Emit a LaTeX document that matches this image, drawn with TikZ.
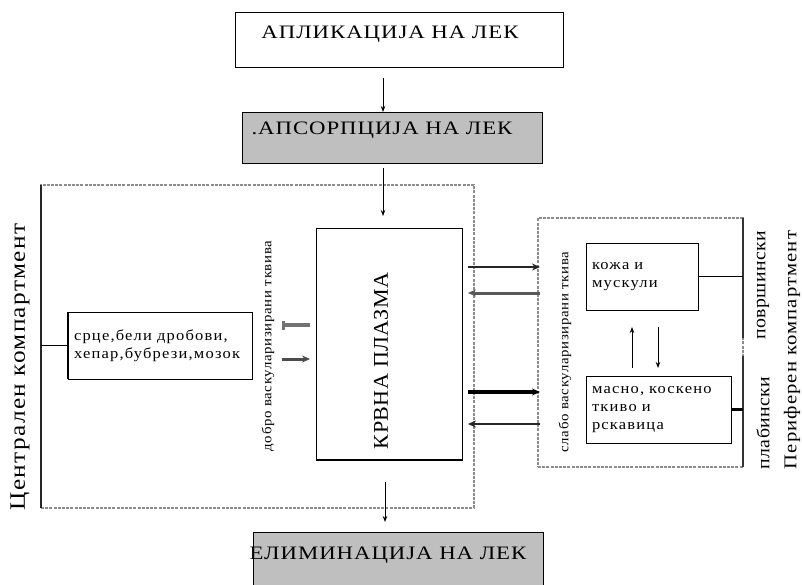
\documentclass[tikz,border=0pt]{standalone}
\usepackage{fontspec}
\setmainfont{Liberation Serif}
\newfontfamily\lsH[FakeStretch=1.2,LetterSpace=5]{Liberation Serif}
\newfontfamily\lsB[FakeStretch=1.1,LetterSpace=8]{Liberation Serif}
\newfontfamily\lsC[FakeStretch=1.1,LetterSpace=5]{Liberation Serif}
\newfontfamily\lsD[FakeStretch=1.05,LetterSpace=2]{Liberation Serif}
\newfontfamily\lsE[FakeStretch=1.15,LetterSpace=6]{Liberation Serif}
\newfontfamily\lsF[FakeStretch=1.1,LetterSpace=2]{Liberation Serif}
\usetikzlibrary{arrows.meta,calc}
\begin{document}
\begin{tikzpicture}[x=1pt,y=-1pt,
  box/.style={draw, line width=0.9pt, rectangle, inner sep=0pt, outer sep=0pt},
  graybox/.style={box, fill=black!25},
  dbox/.style={draw=black!45, dash pattern=on 3pt off 1.2pt, line width=1.6pt, rectangle, inner sep=0pt, outer sep=0pt},
  txtbox/.style={box, align=left, inner xsep=6pt, font=\lsB\fontsize{15}{18}\selectfont},
  head/.style={font=\lsH\fontsize{19}{22}\selectfont, inner sep=0pt},
  vtxt/.style={rotate=90, inner sep=0pt},
  arr/.style={-{Stealth[length=6pt,width=4.5pt]}, line width=0.8pt},
  harr/.style={-{Stealth[length=8pt,width=7pt]}, line width=2pt, black!85},
  hgarr/.style={-{Stealth[length=8pt,width=7pt]}, line width=3pt, black!65},
  bararr/.style={{Bar[width=9pt,line width=3pt]}-, line width=3.2pt, black!55},
]
\useasboundingbox (0,0) rectangle (802,585);

% dashed compartments
\node[dbox, minimum width=433pt, minimum height=323pt] (central) at (257.5,346.5) {};
\draw[line width=1.2pt, black!85] (central.north west) -- (central.south west);
\node[dbox, minimum width=205pt, minimum height=249pt] (periph) at (640.5,342.5) {};
\draw[line width=1.2pt, black!80] (periph.north east) -- ([shift={(0,120)}]periph.north east);
\draw[line width=1.2pt, black!80] ([shift={(0,138)}]periph.north east) -- (periph.south east);

% main boxes
\node[box, minimum width=328pt, minimum height=55pt] (app) at (399,39.5) {};
\node[head] (appt) at (390,34) {АПЛИКАЦИЈА НА ЛЕК};
\node[graybox, minimum width=300pt, minimum height=51pt] (abs) at (392,137.5) {};
\node[head] (abst) at (382,130) {.АПСОРПЦИЈА НА ЛЕК};
\node[graybox, minimum width=290pt, minimum height=68pt] (elim) at (398,566) {};
\node[head] (elimt) at (388,555) {ЕЛИМИНАЦИЈА НА ЛЕК};

\node[box, minimum width=146pt, minimum height=232pt] (plasma) at (389,344) {};
\draw[line width=2pt] ([xshift=-0.5pt]plasma.south west) -- ([xshift=0.5pt]plasma.south east);
\node[vtxt, font=\lsD\fontsize{21}{24}\selectfont] (plasmat) at (381,361) {КРВНА ПЛАЗМА};

\node[txtbox, text width=172pt, minimum height=67pt] (organs) at (160,345.5) {срце,бели дробови,\\хепар,бубрези,мозок};
\draw[line width=2pt] (organs.north west) -- (organs.south west);
\node[txtbox, text width=100pt, minimum height=67pt] (kozha) at (642,276.5) {кожа и\\мускули};
\node[txtbox, text width=133pt, minimum height=67pt] (masno) at (658.5,409.5) {масно, коскено\\ткиво и\\рскавица};

% rotated labels
\node[vtxt, font=\lsC\fontsize{13.5}{15}\selectfont] (dobro) at (268,346) {добро васкуларизирани тквива};
\node[vtxt, font=\lsC\fontsize{13.5}{15}\selectfont] (slabo) at (565,352) {слабо васкуларизирани ткива};
\node[vtxt, font=\lsE\fontsize{22}{25}\selectfont] (centt) at (20,367) {Централен компартмент};
\node[vtxt, font=\lsE\fontsize{18}{21}\selectfont] (pert) at (792,350) {Периферен компартмент};
\node[vtxt, font=\lsF\fontsize{18}{21}\selectfont] (povr) at (763,285) {површински};
\node[vtxt, font=\lsF\fontsize{18}{21}\selectfont] (plab) at (763,423) {плабински};

% vertical flow
\draw[arr] ([shift={(-16,11)}]app.south) -- ([shift={(-9,0)}]abs.north);
\draw[arr] ([shift={(-9,5)}]abs.south) -- ([shift={(-6,-12)}]plasma.north);
\draw[arr] ([shift={(-4,22)}]plasma.south) -- ([shift={(-13,-10)}]elim.north);

% side links
\draw[line width=0.9pt] (central.west |- organs.west) -- (organs.west);
\draw[line width=0.9pt] (kozha.east) -- (periph.east |- kozha.east);
\draw[line width=3pt] (masno.east) -- (periph.east |- masno.east);

% central small arrows
\coordinate (b1) at ([shift={(-6,-19)}]plasma.west);
\coordinate (b2) at ([shift={(-34,15)}]plasma.west);
\draw[bararr] ([xshift=-28pt]b1) -- (b1);
\draw[hgarr, black!70] (b2) -- ([xshift=28pt]b2);

% plasma <-> peripheral
\coordinate (r1) at ([shift={(6,39)}]plasma.north east);
\coordinate (r2) at ([shift={(6,65)}]plasma.north east);
\coordinate (r3) at ([shift={(6,164)}]plasma.north east);
\coordinate (r4) at ([shift={(6,196)}]plasma.north east);
\draw[harr] (r1) -- ([xshift=2pt]periph.west |- r1);
\draw[hgarr] ([xshift=2pt]periph.west |- r2) -- (r2);
\draw[harr, line width=3.4pt, black] (r3) -- ([xshift=2pt]periph.west |- r3);
\draw[harr] ([xshift=2pt]periph.west |- r4) -- (r4);

% kozha <-> masno
\draw[arr] ([shift={(-26.5,-8)}]masno.north) -- ([shift={(-10,17)}]kozha.south);
\draw[arr] ([shift={(16,17)}]kozha.south) -- ([shift={(-0.5,-8)}]masno.north);
\end{tikzpicture}
\end{document}
